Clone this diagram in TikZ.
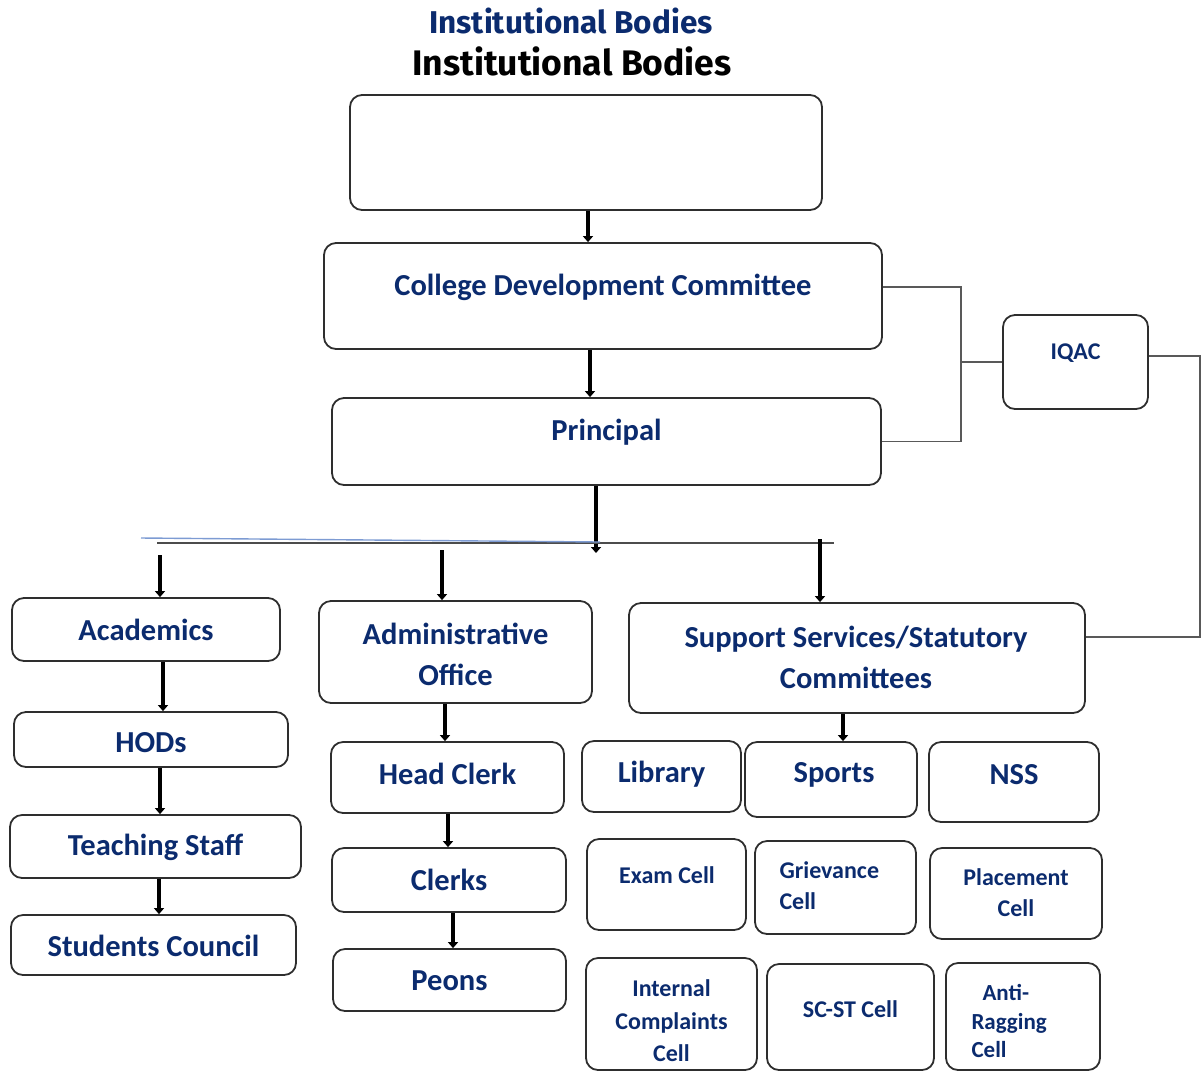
\documentclass[tikz,border=0pt]{standalone}
\usepackage{fontspec}
\setmainfont{Carlito}
\newfontfamily\titlefont{Fira Sans}
\usetikzlibrary{arrows.meta}
\definecolor{navy}{HTML}{0B2B6E}
\definecolor{edge}{HTML}{2E2E2E}
\definecolor{busblue}{HTML}{7D9BD3}

\tikzset{
  bx/.style={draw=edge, line width=1.8pt, rounded corners=12pt, inner sep=0pt},
  big/.style={text=navy, font=\bfseries\fontsize{30.5}{41}\selectfont, align=center},
  small/.style={text=navy, font=\bfseries\fontsize{24}{31}\selectfont, align=center},
  arr/.style={line width=4pt, -{Triangle[width=10pt,length=6pt]}},
  link/.style={draw=gray!70!black, line width=1.4pt},
}

\begin{document}
\begin{tikzpicture}[x=1pt, y=-1pt]
    \useasboundingbox (0,0) rectangle (1201,1072);
    \clip (0,0) rectangle (1201,1072);
    % Titulo
    \node[text=navy, font=\titlefont\bfseries\fontsize{31.5}{34}\selectfont] (title1) at (571,21) {Institutional Bodies};
    \node[font=\titlefont\bfseries\fontsize{35.5}{38}\selectfont] (title2) at (572,61) {Institutional Bodies};
    % Topo
    \node[bx, minimum width=472, minimum height=115] (top) at (586,152.5) {};
    \node[bx, minimum width=558, minimum height=106] (cdc) at (603,296) {};
    \node[big] (cdcT) at (603,287) {College Development Committee};
    \node[bx, minimum width=549, minimum height=87] (prin) at (606.5,441.5) {};
    \node[big] (prinT) at (606.5,432) {Principal};
    \node[bx, minimum width=145, minimum height=94] (iqac) at (1075.5,362) {};
    \node[small] (iqacT) at (1075.5,353) {IQAC};
    % Academicos
    \node[bx, minimum width=268, minimum height=63] (acad) at (146,629.5) {};
    \node[big] (acadT) at (146,630) {Academics};
    \node[bx, minimum width=274, minimum height=55] (hod) at (151,739.5) {};
    \node[big] (hodT) at (151,743) {HODs};
    \node[bx, minimum width=291, minimum height=63] (teach) at (155.5,846.5) {};
    \node[big] (teachT) at (155.5,847) {Teaching Staff};
    \node[bx, minimum width=285, minimum height=60] (stud) at (153.5,945) {};
    \node[big] (studT) at (153.5,946) {Students Council};
    % Administrativo
    \node[bx, minimum width=273, minimum height=102] (admin) at (455.5,652) {};
    \node[big] (adminT) at (455.5,654) {Administrative\\Office};
    \node[bx, minimum width=233, minimum height=71] (hc) at (447.5,777.5) {};
    \node[big] (hcT) at (447.5,774) {Head Clerk};
    \node[bx, minimum width=234, minimum height=64] (clerks) at (449,880) {};
    \node[big] (clerksT) at (449,880) {Clerks};
    \node[bx, minimum width=233, minimum height=62] (peons) at (449.5,980) {};
    \node[big] (peonsT) at (449.5,981) {Peons};
    % Servicos de apoio
    \node[bx, minimum width=456, minimum height=110] (supp) at (857,658) {};
    \node[big] (suppT) at (856,657) {Support Services/Statutory\\Committees};
    \node[bx, minimum width=159, minimum height=71] (lib) at (661.5,776.5) {};
    \node[big] (libT) at (661.5,774) {Library};
    \node[bx, minimum width=172, minimum height=75] (sports) at (831,779.5) {};
    \node[big] (sportsT) at (834,775) {Sports};
    \node[bx, minimum width=170, minimum height=80] (nss) at (1014,782) {};
    \node[big] (nssT) at (1014,775) {NSS};
    \node[bx, minimum width=159, minimum height=91] (exam) at (666.5,884.5) {};
    \node[small] (examT) at (667,875) {Exam Cell};
    \node[bx, minimum width=161, minimum height=93] (griev) at (835.5,887.5) {};
    \node[small, align=left, anchor=west] (grievT) at (776,886) {Grievance\\Cell};
    \node[bx, minimum width=172, minimum height=91] (place) at (1016,893.5) {};
    \node[small] (placeT) at (1016,893) {Placement\\Cell};
    \node[bx, minimum width=171, minimum height=112] (icc) at (671.5,1014) {};
    \node[small, font=\bfseries\fontsize{24}{32.5}\selectfont] (iccT) at (671.5,1021) {Internal\\Complaints\\Cell};
    \node[bx, minimum width=167, minimum height=106] (scst) at (850.5,1017) {};
    \node[small] (scstT) at (850.5,1009) {SC-ST Cell};
    \node[bx, minimum width=154, minimum height=107] (anti) at (1023,1016.5) {};
    \node[small, align=left, anchor=west, font=\bfseries\fontsize{23}{28.5}\selectfont] (antiT) at (968,1021) {\hspace{11pt}Anti-\\Ragging\\Cell};
    % Setas
    \draw[arr] ([xshift=2]top.south) -- ([xshift=-15]cdc.north);
    \draw[arr] ([xshift=-13]cdc.south) -- ([xshift=-16.5]prin.north);
    \coordinate (bus) at (596,553);
    \draw[arr] ([xshift=-10.5]prin.south) -- (bus);
    % Barra horizontal
    \draw[draw=gray!60!black, line width=1.6pt] (157,543) -- (834,543);
    \draw[draw=busblue, line width=1.4pt] (141,538) -- (600,542);
    \draw[arr] ([xshift=14,yshift=42]acad.north) -- ([xshift=14]acad.north);
    \draw[arr] ([xshift=-13.5,yshift=50]admin.north) -- ([xshift=-13.5]admin.north);
    \draw[arr] ([xshift=-37,yshift=63]supp.north) -- ([xshift=-37]supp.north);
    \draw[arr] ([xshift=17]acad.south) -- ([xshift=12]hod.north);
    \draw[arr] ([xshift=9]hod.south) -- ([xshift=4.5]teach.north);
    \draw[arr] ([xshift=3.5]teach.south) -- ([xshift=5.5]stud.north);
    \draw[arr] ([xshift=-10.5]admin.south) -- ([xshift=-2.5]hc.north);
    \draw[arr] ([xshift=0.5]hc.south) -- ([xshift=-1]clerks.north);
    \draw[arr] ([xshift=4]clerks.south) -- ([xshift=3.5]peons.north);
    \draw[arr] ([xshift=-14]supp.south) -- ([xshift=12]sports.north);
    % Ligacoes IQAC
    \coordinate (jn) at (961,362);
    \draw[link] ([yshift=9]cdc.east) -| (jn) |- (prin.east);
    \draw[link] (jn) -- (iqac.west);
    \draw[link] ([yshift=6]iqac.east) -| ([xshift=114,yshift=21]supp.east) -- ([yshift=21]supp.east);
\end{tikzpicture}
\end{document}
